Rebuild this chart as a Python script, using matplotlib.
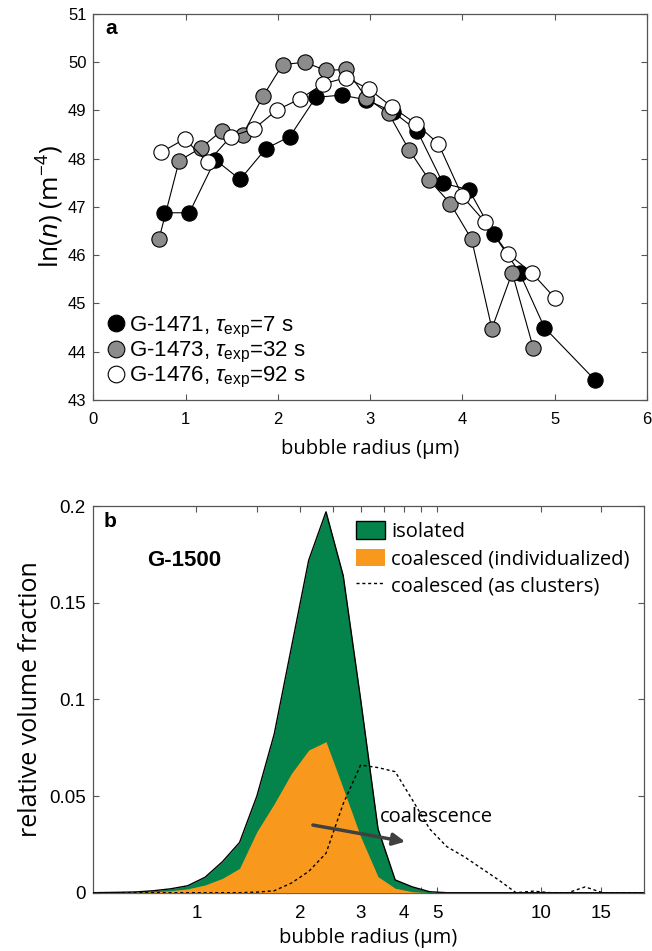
import matplotlib
matplotlib.use('Agg')
import matplotlib.pyplot as plt
from matplotlib.patches import Patch
from matplotlib.lines import Line2D
from matplotlib.ticker import FixedLocator, NullFormatter, FixedFormatter

plt.rcParams['mathtext.fontset'] = 'custom'
plt.rcParams['mathtext.rm'] = 'Liberation Sans'
plt.rcParams['mathtext.it'] = 'Liberation Sans:italic'
plt.rcParams['mathtext.bf'] = 'Liberation Sans:bold'
plt.rcParams['font.family'] = ['Liberation Sans', 'DejaVu Sans']

TICKFONT = 'Liberation Sans'
LABELFONT = ['Open Sans', 'DejaVu Sans']

# ---------------- panel a data ----------------
r_1471 = [0.77, 1.04, 1.32, 1.59, 1.87, 2.13, 2.41, 2.69, 2.96, 3.25, 3.51, 3.79,
          4.07, 4.34, 4.62, 4.89, 5.44]
ln_1471 = [46.88, 46.88, 47.98, 47.57, 48.21, 48.46, 49.27, 49.32, 49.22, 48.97,
           48.58, 47.49, 47.36, 46.43, 45.64, 44.50, 43.41]

r_1473 = [0.71, 0.93, 1.17, 1.39, 1.62, 1.84, 2.05, 2.29, 2.52, 2.74, 2.96, 3.20,
          3.42, 3.64, 3.87, 4.10, 4.32, 4.54, 4.77]
ln_1473 = [46.33, 47.96, 48.23, 48.58, 48.50, 49.30, 49.95, 50.00, 49.83, 49.85,
           49.26, 48.94, 48.19, 47.56, 47.07, 46.33, 44.48, 45.64, 44.07]

r_1476 = [0.73, 0.99, 1.24, 1.49, 1.74, 1.99, 2.24, 2.49, 2.74, 2.99, 3.24, 3.50,
          3.74, 4.00, 4.25, 4.50, 4.75, 5.00]
ln_1476 = [48.13, 48.41, 47.93, 48.46, 48.62, 49.01, 49.24, 49.55, 49.68, 49.44,
           49.07, 48.72, 48.31, 47.22, 46.68, 46.02, 45.64, 45.12]

labels_a = [r'G-1471, $\tau_{\mathrm{exp}}$=7 s',
            r'G-1473, $\tau_{\mathrm{exp}}$=32 s',
            r'G-1476, $\tau_{\mathrm{exp}}$=92 s']
colors_a = ['black', '#8c8c8c', 'white']

# ---------------- panel b data ----------------
r_bins = [0.5, 0.595, 0.667, 0.749, 0.841, 0.944, 1.06, 1.19, 1.335, 1.499, 1.683,
          1.889, 2.12, 2.38, 2.67, 3.0, 3.37, 3.78, 4.24, 4.76, 5.34, 6.0, 6.73,
          7.55, 8.48, 9.52, 10.69, 12.0, 13.47, 15.12, 16.97, 19.05, 20.0]
isolated = [0, 0.0002, 0.0004, 0.001, 0.002, 0.0036, 0.008, 0.016, 0.026, 0.050,
            0.082, 0.127, 0.172, 0.197, 0.164, 0.100, 0.033, 0.0066, 0.003, 0.0005,
            0, 0, 0, 0, 0, 0, 0, 0, 0, 0, 0, 0, 0]
coalesced_ind = [0, 0.0001, 0.0002, 0.0005, 0.001, 0.002, 0.004, 0.0074, 0.0126,
                 0.0316, 0.046, 0.0617, 0.0738, 0.0781, 0.054, 0.029, 0.0083,
                 0.0023, 0.0005, 0, 0, 0, 0, 0, 0, 0, 0, 0, 0, 0, 0, 0, 0]
clusters = [0, 0, 0, 0, 0, 0, 0, 0, 0, 0.0003, 0.001, 0.005, 0.011, 0.0204, 0.046,
            0.066, 0.0647, 0.0626, 0.048, 0.033, 0.0238, 0.0186, 0.0126, 0.0066,
            0, 0.0008, 0, 0, 0.003, 0, 0, 0, 0]
labels_b = ['isolated', 'coalesced (individualized)', 'coalesced (as clusters)']
xticks_b = [1, 2, 3, 4, 5, 10, 15]
xminor_b = [1.5, 2.5, 3.5, 4.5]
yticks_b = [0, 0.05, 0.1, 0.15, 0.2]
yticklabels_b = ['0', '0.05', '0.1', '0.15', '0.2']

GREEN = '#04844a'
ORANGE = '#f8991d'
SPINE = '#555555'

fig = plt.figure(figsize=(6.52, 9.51), dpi=100)


def style_axes(ax, fs, pad):
    for s in ax.spines.values():
        s.set_color(SPINE)
        s.set_linewidth(0.9)
    ax.tick_params(which='both', direction='in', top=True, right=True,
                   length=4, width=0.8, color=SPINE, labelsize=fs)
    ax.tick_params(axis='x', which='both', pad=pad)
    ax.tick_params(axis='y', which='both', pad=5)
    for lab in ax.get_xticklabels() + ax.get_yticklabels():
        lab.set_fontfamily(TICKFONT)


# ---------------- panel a ----------------
ax1 = fig.add_axes([0.1433, 0.5794, 0.8488, 0.4059])
for r, v, c, lab in zip([r_1471, r_1473, r_1476], [ln_1471, ln_1473, ln_1476],
                        colors_a, labels_a):
    ax1.plot(r, v, '-o', color='black', lw=0.8, ms=11, mfc=c, mec='black',
             mew=0.8, label=lab)
ax1.set_xlim(0, 6)
ax1.set_ylim(43, 51)
ax1.set_xticks(range(0, 7))
ax1.set_yticks(range(43, 52))
style_axes(ax1, 12, 9)
ax1.set_xlabel('bubble radius (μm)', fontsize=14.5, family=LABELFONT, labelpad=8)
ax1.set_ylabel(r'ln($\mathit{n}$) (m$^{-4}$)', fontsize=19, family=LABELFONT,
               labelpad=1)
handles = [Line2D([], [], ls='none', marker='o', ms=12, mfc=c, mec='black', mew=0.8)
           for c in colors_a]
ax1.legend(handles, labels_a, loc='lower left', bbox_to_anchor=(0.0, 0.0),
           frameon=False, fontsize=16, handletextpad=0.05, labelspacing=0.0,
           borderaxespad=0.25, handlelength=1.1, borderpad=0.2)
ax1.text(0.021, 0.962, 'a', transform=ax1.transAxes, fontsize=15,
         fontweight='bold', va='center', ha='left')

# ---------------- panel b ----------------
ax2 = fig.add_axes([0.1422, 0.0613, 0.846, 0.4066])
ax2.set_xscale('log')
ax2.fill_between(r_bins, 0, isolated, color=GREEN, lw=0, zorder=1)
ax2.plot(r_bins, isolated, color='black', lw=1.0, zorder=2)
ax2.fill_between(r_bins, 0, coalesced_ind, color=ORANGE, lw=0, zorder=3)
ax2.plot(r_bins, clusters, color='black', lw=1.0, ls=(0, (2.2, 2.0)), zorder=4)
ax2.set_xlim(0.5, 20)
ax2.set_ylim(0, 0.2)
ax2.xaxis.set_major_locator(FixedLocator(xticks_b))
ax2.xaxis.set_major_formatter(FixedFormatter([str(t) for t in xticks_b]))
ax2.xaxis.set_minor_locator(FixedLocator(xminor_b))
ax2.xaxis.set_minor_formatter(NullFormatter())
ax2.set_yticks(yticks_b)
ax2.set_yticklabels(yticklabels_b)
style_axes(ax2, 13.5, 9)
ax2.set_xlabel('bubble radius (μm)', fontsize=14.5, family=LABELFONT, labelpad=4)
ax2.set_ylabel('relative volume fraction', fontsize=18, family=LABELFONT,
               labelpad=4)

hb = [Patch(facecolor=GREEN, edgecolor='black', lw=1.0),
      Patch(facecolor=ORANGE, edgecolor='none'),
      Line2D([], [], color='black', lw=1.0, ls=(0, (2.2, 2.0)))]
ax2.legend(hb, labels_b, loc='upper left', bbox_to_anchor=(0.477, 0.96),
           frameon=False, prop={'family': LABELFONT, 'size': 14.5},
           handlelength=1.45, handleheight=0.95, handletextpad=0.3,
           labelspacing=0.32, borderpad=0, borderaxespad=0)

ax2.annotate('', xy=(4.04, 0.0264), xytext=(2.18, 0.035),
             arrowprops=dict(arrowstyle='-|>', color='#404040', lw=2.5,
                             mutation_scale=18, shrinkA=0, shrinkB=0),
             zorder=6)
ax2.text(3.41, 0.0393, 'coalescence', fontsize=14.5, family=LABELFONT,
         ha='left', va='center', zorder=6)
ax2.text(0.1655, 0.860, 'G-1500', transform=ax2.transAxes, fontsize=16,
         fontweight='bold', ha='center', va='center')
ax2.text(0.019, 0.959, 'b', transform=ax2.transAxes, fontsize=15,
         fontweight='bold', ha='left', va='center')

fig.savefig('out.png', dpi=100)
